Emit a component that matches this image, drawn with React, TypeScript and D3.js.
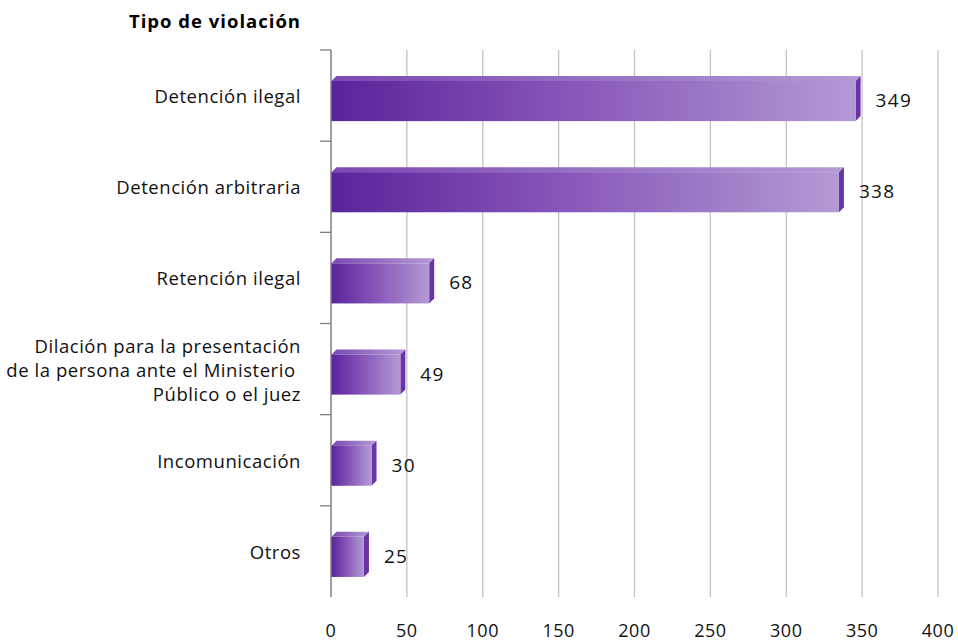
import React from "react";
import * as d3 from "d3";

const categories = [
  "Detención ilegal",
  "Detención arbitraria",
  "Retención ilegal",
  "Dilación para la presentación|de la persona ante el Ministerio |Público o el juez",
  "Incomunicación",
  "Otros",
];
const values = [349, 338, 68, 49, 30, 25];
const xTicks = [0, 50, 100, 150, 200, 250, 300, 350, 400];
const title = "Tipo de violación";

const W = 958;
const H = 641;
const left = 331;
const right = 938;
const top = 50;
const bottom = 597;
const FONT = "'Open Sans', 'Noto Sans', sans-serif";

export default function App() {
  const x = d3.scaleLinear().domain([0, 400]).range([left, right]);
  const y = d3
    .scaleBand<number>()
    .domain(d3.range(categories.length))
    .range([top, bottom])
    .paddingInner(0)
    .paddingOuter(0);
  const bw = y.bandwidth();
  const d = 5;
  const faceH = bw * 0.44;
  const faceOff = bw * 0.34;

  return (
    <div style={{ position: "absolute", left: 0, top: 0 }}>
      <svg width={W} height={H} style={{ display: "block", background: "#fff" }}>
        <defs>
          <linearGradient id="front" x1="0" x2="1" y1="0" y2="0">
            <stop offset="0%" stopColor="#5b239b" />
            <stop offset="45%" stopColor="#8656b8" />
            <stop offset="100%" stopColor="#b39ad4" />
          </linearGradient>
          <linearGradient id="topg" x1="0" x2="1" y1="0" y2="0">
            <stop offset="0%" stopColor="#7a48b2" />
            <stop offset="100%" stopColor="#b49bd6" />
          </linearGradient>
        </defs>
        <text x={301} y={28} textAnchor="end" fontFamily={FONT} fontSize={18.5} letterSpacing={1.0} fontWeight={700} fill="#000">
          {title}
        </text>
        {xTicks.slice(1).map((t) => (
          <line key={t} x1={x(t)} x2={x(t)} y1={top} y2={bottom} stroke="#c3c3c3" strokeWidth={1.3} />
        ))}
        <line x1={left} x2={left} y1={top} y2={bottom} stroke="#7f7f7f" strokeWidth={1.5} />
        {categories.map((_, i) => (
          <line key={i} x1={left - 11} x2={left} y1={y(i)!} y2={y(i)!} stroke="#7f7f7f" strokeWidth={1.3} />
        ))}
        {values.map((v, i) => {
          const x0 = x(0) + 0.5;
          const xe = x(v) - d;
          const fy = y(i)! + faceOff;
          return (
            <g key={i}>
              <polygon
                points={`${x0},${fy} ${x0 + d},${fy - d} ${xe + d},${fy - d} ${xe},${fy}`}
                fill="url(#topg)"
              />
              <polygon
                points={`${xe},${fy} ${xe + d},${fy - d} ${xe + d},${fy + faceH - d} ${xe},${fy + faceH}`}
                fill="#6a33a8"
              />
              <rect x={x0} y={fy} width={xe - x0} height={faceH} fill="url(#front)" />
              <text
                x={x(v) + 15}
                y={fy + faceH / 2 + 1}
                dominantBaseline="middle"
                fontFamily={FONT}
                fontSize={19}
                letterSpacing={1.3}
                fill="#111"
              >
                {v}
              </text>
            </g>
          );
        })}
        {categories.map((c, i) => {
          const lines = c.split("|");
          const cy = y(i)! + bw / 2 + 2.5;
          const lh = 24;
          return (
            <text key={i} textAnchor="end" fontFamily={FONT} fontSize={18.5} letterSpacing={0.55} fill="#111">
              {lines.map((l, j) => (
                <tspan
                  key={j}
                  x={301}
                  y={cy + (j - (lines.length - 1) / 2) * lh}
                  dominantBaseline="middle"
                  style={{ whiteSpace: "pre" }}
                >
                  {l}
                </tspan>
              ))}
            </text>
          );
        })}
        {xTicks.map((t) => (
          <text key={t} x={x(t)} y={632} textAnchor="middle" dominantBaseline="middle" fontFamily={FONT} fontSize={18} letterSpacing={0.5} fill="#111">
            {t}
          </text>
        ))}
      </svg>
    </div>
  );
}
